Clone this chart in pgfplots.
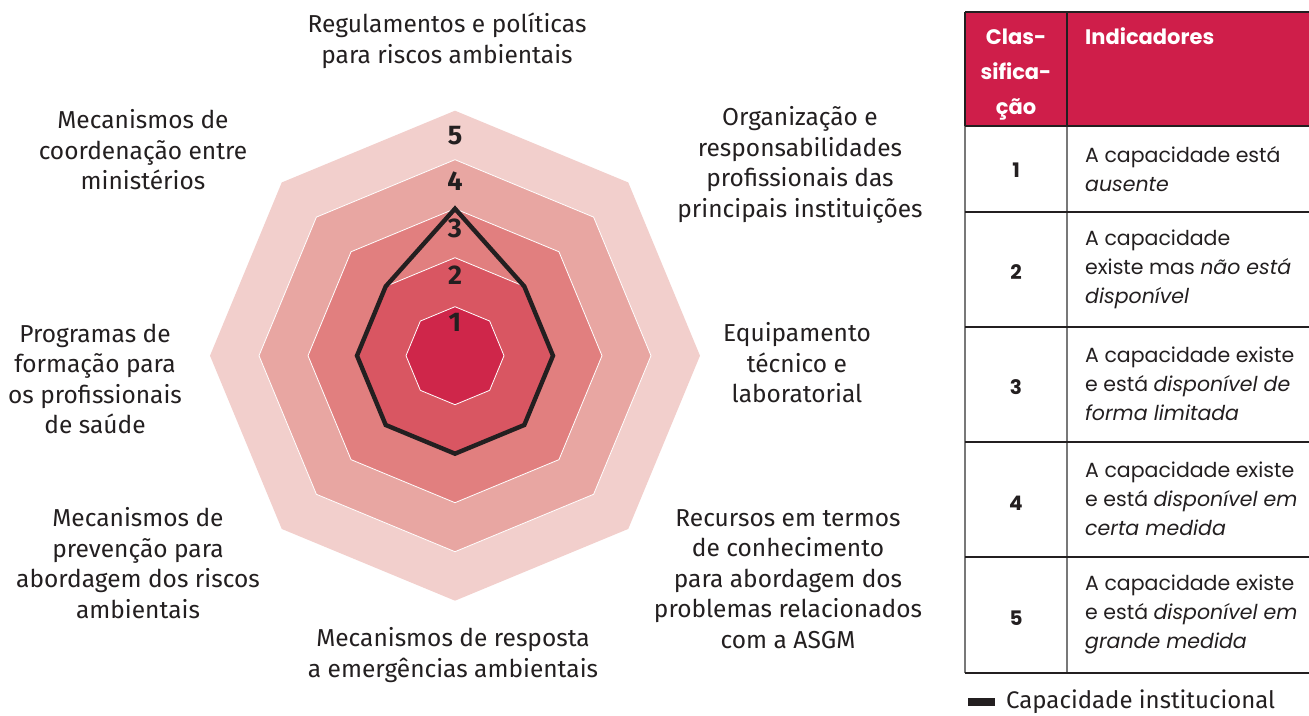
\documentclass[border=0pt]{standalone}
\usepackage{fontspec}
\setmainfont{Fira Sans}
\newfontfamily\tabfont{Poppins}
\usepackage{pgfplots}
\usepgfplotslibrary{polar}
\pgfplotsset{compat=1.18}
\definecolor{lvA}{RGB}{242,207,204}
\definecolor{lvB}{RGB}{232,166,162}
\definecolor{lvC}{RGB}{225,127,127}
\definecolor{lvD}{RGB}{217,86,98}
\definecolor{lvE}{RGB}{207,38,74}
\definecolor{hdr}{RGB}{207,30,74}
\definecolor{ink}{RGB}{35,31,32}
\definecolor{gridg}{RGB}{120,120,120}
\begin{document}
\begin{tikzpicture}[x=1pt,y=1pt]
\useasboundingbox (0,0) rectangle (1309,715);
\begin{polaraxis}[at={(455pt,359.3pt)}, anchor=center, scale only axis,
  width=490pt, height=490pt, ymin=0, ymax=5, hide axis, clip=false, no markers]
\addplot[fill=lvA, draw=none] coordinates {(90,5)(45,5)(0,5)(315,5)(270,5)(225,5)(180,5)(135,5)} -- cycle;
\addplot[fill=lvB, draw=white, line width=0.8pt] coordinates {(90,4)(45,4)(0,4)(315,4)(270,4)(225,4)(180,4)(135,4)} -- cycle;
\addplot[fill=lvC, draw=white, line width=0.8pt] coordinates {(90,3)(45,3)(0,3)(315,3)(270,3)(225,3)(180,3)(135,3)} -- cycle;
\addplot[fill=lvD, draw=white, line width=0.8pt] coordinates {(90,2)(45,2)(0,2)(315,2)(270,2)(225,2)(180,2)(135,2)} -- cycle;
\addplot[fill=lvE, draw=white, line width=0.8pt] coordinates {(90,1)(45,1)(0,1)(315,1)(270,1)(225,1)(180,1)(135,1)} -- cycle;
\foreach \v/\r in {5/4.5,4/3.57,3/2.6,2/1.65,1/0.67}{
  \edef\tmp{\noexpand\node[font=\noexpand\fontsize{27}{27}\noexpand\selectfont\noexpand\bfseries, text=ink] at (axis cs:90,\r) {\v};}\tmp
}
\addplot[draw=ink, line width=4.4pt, line join=miter] coordinates {(90,3)(45,2)(0,2)(315,2)(270,2)(225,2)(180,2)(135,2)} -- cycle;
\end{polaraxis}

\begin{scope}[every node/.style={align=center, text=ink, font=\fontsize{24.5}{30.5}\selectfont}]
\node at (447,674) {Regulamentos e políticas\\para riscos ambientais};
\node at (800,550) {Organização e\\responsabilidades\\profissionais das\\principais instituições};
\node at (797,352) {Equipamento\\técnico e\\laboratorial};
\node at (788,136) {Recursos em termos\\de conhecimento\\para abordagem dos\\problemas relacionados\\com a ASGM};
\node at (453,60) {Mecanismos de resposta\\a emergências ambientais};
\node at (138,152) {Mecanismos de\\prevenção para\\abordagem dos riscos\\ambientais};
\node at (95,336) {Programas de\\formação para\\os profissionais\\de saúde};
\node at (143,565) {Mecanismos de\\coordenação entre\\ministérios};
\end{scope}

% table
\fill[hdr] (965,589) rectangle (1309,703);
\draw[gridg, line width=1.5pt] (1067,589) -- (1067,42);
\draw[gridg, line width=1.5pt] (965,589) -- (965,42);
\draw[ink, line width=1.5pt] (965,703) -- (965,589);
\draw[ink, line width=1.5pt] (1067,703) -- (1067,589);
\draw[ink, line width=1.5pt] (965,703) -- (1309,703);
\foreach \yy in {589,503,388,273,158,42}{\draw[ink, line width=1.5pt] (965,\yy) -- (1309,\yy);}
\node[text=white, font=\tabfont\fontsize{21}{35}\selectfont\bfseries, align=center] at (1016,640) {Clas-\\sifica-\\ção};
\node[text=white, font=\tabfont\fontsize{21}{24}\selectfont\bfseries, anchor=west, inner sep=0pt] at (1085,679) {Indicadores};
\begin{scope}[every node/.style={text=ink, font=\tabfont\fontsize{20.5}{29}\selectfont}]
\node[font=\tabfont\fontsize{20}{24}\selectfont\bfseries] at (1016,545) {1};
\node[font=\tabfont\fontsize{20}{24}\selectfont\bfseries] at (1016,443) {2};
\node[font=\tabfont\fontsize{20}{24}\selectfont\bfseries] at (1016,328) {3};
\node[font=\tabfont\fontsize{20}{24}\selectfont\bfseries] at (1016,212) {4};
\node[font=\tabfont\fontsize{20}{24}\selectfont\bfseries] at (1016,97) {5};
\node[anchor=west, align=left, inner sep=0pt] at (1085,545.5) {A capacidade está\\\textit{ausente}};
\node[anchor=west, align=left, inner sep=0pt] at (1085,445.3) {A capacidade\\existe mas \textit{não está}\\\textit{disponível}};
\node[anchor=west, align=left, inner sep=0pt] at (1085,331) {A capacidade existe\\e está \textit{disponível de}\\\textit{forma limitada}};
\node[anchor=west, align=left, inner sep=0pt] at (1085,216) {A capacidade existe\\e está \textit{disponível em}\\\textit{certa medida}};
\node[anchor=west, align=left, inner sep=0pt] at (1085,101) {A capacidade existe\\e está \textit{disponível em}\\\textit{grande medida}};
\end{scope}
% legend
\fill[ink] (968,9) rectangle (995,17);
\node[anchor=west, inner sep=0pt, text=ink, font=\fontsize{24}{24}\selectfont] at (1006,13) {Capacidade institucional};
\end{tikzpicture}
\end{document}
